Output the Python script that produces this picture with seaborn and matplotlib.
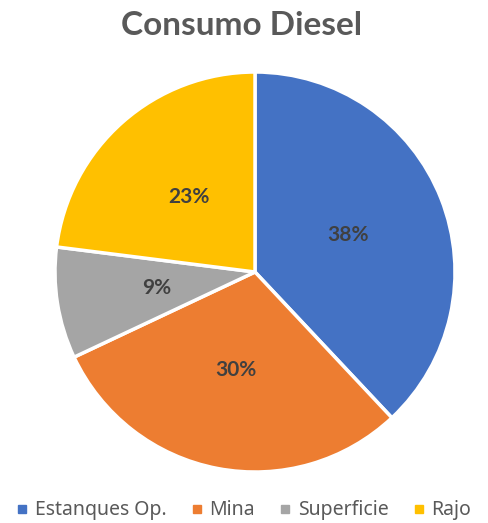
import matplotlib
matplotlib.use("Agg")
import matplotlib.pyplot as plt
from matplotlib.lines import Line2D
import seaborn as sns

categories = ["Estanques Op.", "Mina", "Superficie", "Rajo"]
values = [38, 30, 9, 23]
colors = ["#4472C4", "#ED7D31", "#A5A5A5", "#FFC000"]

sns.set_style("white")
plt.rcParams['font.family'] = ['Noto Sans', 'DejaVu Sans']
palette = sns.color_palette(colors)

fig = plt.figure(figsize=(4.88, 5.23), dpi=100)
ax = fig.add_axes([0.1127, 0.0975, 0.8197, 0.7648])
wedges, texts, autotexts = ax.pie(
    values, colors=palette, startangle=90, counterclock=False,
    autopct=lambda p: "{:.0f}%".format(p), pctdistance=0.5,
    wedgeprops=dict(edgecolor="white", linewidth=2.5),
    textprops=dict(color="#404040", fontsize=15, fontweight="bold",
                   family=["Lato", "DejaVu Sans"]))
ax.set_aspect("auto")
ax.set_xlim(-1, 1)
ax.set_ylim(-1, 1)
ax.axis("off")

fig.text(0.494, 0.952, "Consumo Diesel", ha="center", va="center",
         fontsize=24, fontweight="bold", color="#595959",
         family=["Lato", "DejaVu Sans"])

handles = [Line2D([0], [0], marker="s", linestyle="", markersize=6,
                  markerfacecolor=c, markeredgecolor=c) for c in colors]
fig.legend(handles, categories, loc="center", bbox_to_anchor=(0.5, 0.024),
           ncol=4, frameon=False, fontsize=14, handlelength=0.6,
           handletextpad=0.35, columnspacing=1.25, labelcolor="#595959")

fig.savefig("out.png", dpi=100)
